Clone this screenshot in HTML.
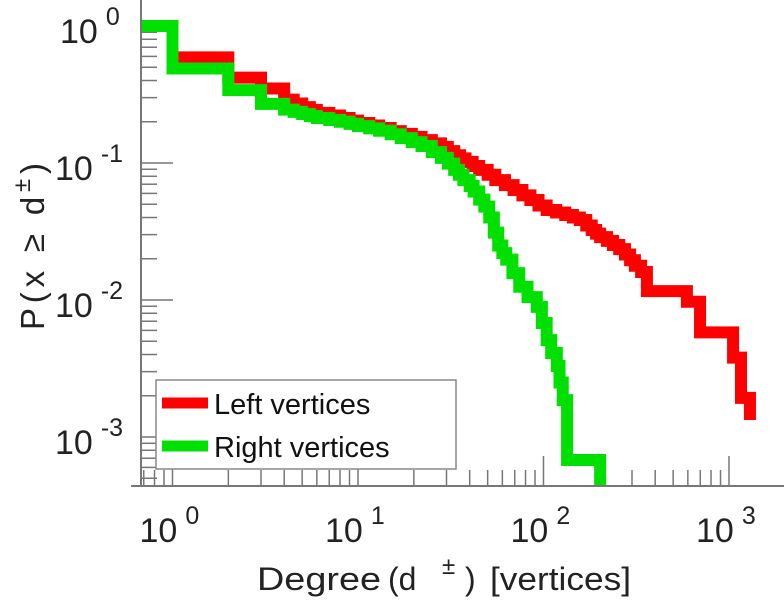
<!DOCTYPE html>
<html><head><meta charset="utf-8"><style>
body{margin:0;background:#fff}
svg{display:block;font-family:"Liberation Sans",sans-serif}
</style></head><body>
<svg id="chart" width="784" height="600" viewBox="0 0 784 600">
<defs><clipPath id="plotclip"><rect x="141" y="0" width="643" height="486"/></clipPath></defs>
<g id="ticks"></g>
<g id="series" clip-path="url(#plotclip)"></g>
<line x1="141" y1="0" x2="141" y2="486" stroke="#777" stroke-width="2"/>
<line x1="131" y1="486" x2="784" y2="486" stroke="#777" stroke-width="2"/>
<g id="labels" fill="#222"></g>
<text transform="translate(44,330) rotate(-90)" font-size="33" fill="#222" textLength="167" lengthAdjust="spacing">P(x ≥ d<tspan dy="-14" font-size="24">±</tspan><tspan dy="14">)</tspan></text>
<g font-size="32" fill="#222">
<text x="257" y="590" textLength="124" lengthAdjust="spacingAndGlyphs">Degree</text>
<text x="388" y="590">(d</text>
<text x="442" y="574" font-size="24">±</text>
<text x="465" y="590">)</text>
<text x="490" y="590" textLength="141" lengthAdjust="spacingAndGlyphs">[vertices]</text>
</g>
<g>
<rect x="156" y="380" width="300" height="89" fill="#fff" stroke="#888" stroke-width="1.5"/>
<line x1="162" y1="403" x2="208" y2="403" stroke="#ff0000" stroke-width="11"/>
<text x="214" y="414" font-size="29" fill="#111">Left vertices</text>
<line x1="162" y1="446" x2="208" y2="446" stroke="#00e000" stroke-width="11"/>
<text x="214" y="457" font-size="29" fill="#111">Right vertices</text>
</g>
</svg>
<script>
const leftDeg = [0.68,1,2,3,4,4.5,5,5.5,6,7,8,9,10,11.5,13,15,17,19.5,22,25,28,30.5,33,35.5,38,41.5,45,50,55,62,69,77,85,94,104,117,131,144,157,170,182,192,202,220,237,256,275,293,311,336,361,593,698,1052,1161,1297];
const leftProb = [1,0.59,0.42,0.35,0.29,0.272,0.256,0.244,0.232,0.222,0.213,0.204,0.196,0.188,0.18,0.171,0.163,0.155,0.147,0.139,0.131,0.122,0.114,0.108,0.102,0.095,0.089,0.082,0.075,0.069,0.0635,0.058,0.0537,0.049,0.0454,0.0435,0.0417,0.04,0.0384,0.035,0.0324,0.0305,0.0288,0.027,0.0252,0.0235,0.0215,0.0195,0.0178,0.016,0.0116,0.0097,0.0058,0.0038,0.00193,0.00133];
const leftEnd = 0.00133;
const rightDeg = [0.68,1,2,3,4,4.5,5,5.5,6,7,8,9,10,11.5,13,15,17,19.5,22,25,28,30.5,33,35,37,40,42,45,48,51,54,57,60,63,68,74,82,92,98,104,110,118,122,127,134,202];
const rightProb = [1,0.49,0.34,0.27,0.245,0.236,0.228,0.22,0.213,0.206,0.2,0.193,0.186,0.179,0.172,0.162,0.152,0.142,0.133,0.12,0.109,0.099,0.089,0.082,0.075,0.068,0.062,0.054,0.048,0.04,0.031,0.025,0.022,0.0197,0.0157,0.0125,0.0105,0.0089,0.0068,0.0051,0.0041,0.0033,0.0025,0.00186,0.00068,0.00068];
const rightEnd = 0.0004;
const xDecades = [0,1,2,3];
const yDecades = [0,-1,-2,-3];

const NS = "http://www.w3.org/2000/svg";
function xs(d){return 172.5 + 185.5*Math.log10(d);}
function ys(p){return 26 - 137*Math.log10(p);}

function stepPath(deg, prob, endP){
  let s = "M" + xs(deg[0]) + " " + ys(prob[0]);
  for (let i=1;i<deg.length;i++){ s += " H" + xs(deg[i]) + " V" + ys(prob[i]); }
  s += " V" + ys(endP);
  return s;
}
const series = document.getElementById("series");
function addSeries(deg, prob, endP, color, name){
  const p = document.createElementNS(NS,"path");
  p.setAttribute("d", stepPath(deg, prob, endP));
  p.setAttribute("fill","none");
  p.setAttribute("stroke",color);
  p.setAttribute("stroke-width","12");
  p.setAttribute("stroke-linejoin","miter");
  
  
  series.appendChild(p);
}
addSeries(leftDeg, leftProb, leftEnd, "#ff0000", "left-vertices-line");
addSeries(rightDeg, rightProb, rightEnd, "#00e000", "right-vertices-line");

const ticks = document.getElementById("ticks");
function tline(x1,y1,x2,y2){
  const l = document.createElementNS(NS,"line");
  l.setAttribute("x1",x1);l.setAttribute("y1",y1);l.setAttribute("x2",x2);l.setAttribute("y2",y2);
  l.setAttribute("stroke","#777");l.setAttribute("stroke-width","1.5");
  
  
  ticks.appendChild(l);
}
for (let e=-1;e<=3;e++){
  for (let m=1;m<=9;m++){
    const x = xs(m*Math.pow(10,e));
    if (x<141||x>784) continue;
    tline(x,486,x, m===1?456:470);
  }
}
for (let e=-4;e<=0;e++){
  for (let m=1;m<=9;m++){
    const y = ys(m*Math.pow(10,e));
    if (y<0||y>486) continue;
    tline(141,y, m===1?173:157, y);
  }
}
const labels = document.getElementById("labels");
xDecades.forEach(function(e){
  const t = document.createElementNS(NS,"text");
  t.setAttribute("x", xs(Math.pow(10,e)) - 33);
  t.setAttribute("y", 542);
  t.setAttribute("font-size", "34");
  
  
  t.innerHTML = '10<tspan dx="8" dy="-18" font-size="25">'+e+'</tspan>';
  labels.appendChild(t);
});
yDecades.forEach(function(e){
  const t = document.createElementNS(NS,"text");
  t.setAttribute("x", e===0?60:55);
  t.setAttribute("y", ys(Math.pow(10,e)) + 17);
  t.setAttribute("font-size", "34");
  
  
  t.innerHTML = '10<tspan dx="8" dy="-18" font-size="25">'+e+'</tspan>';
  labels.appendChild(t);
});
</script>
</body></html>
